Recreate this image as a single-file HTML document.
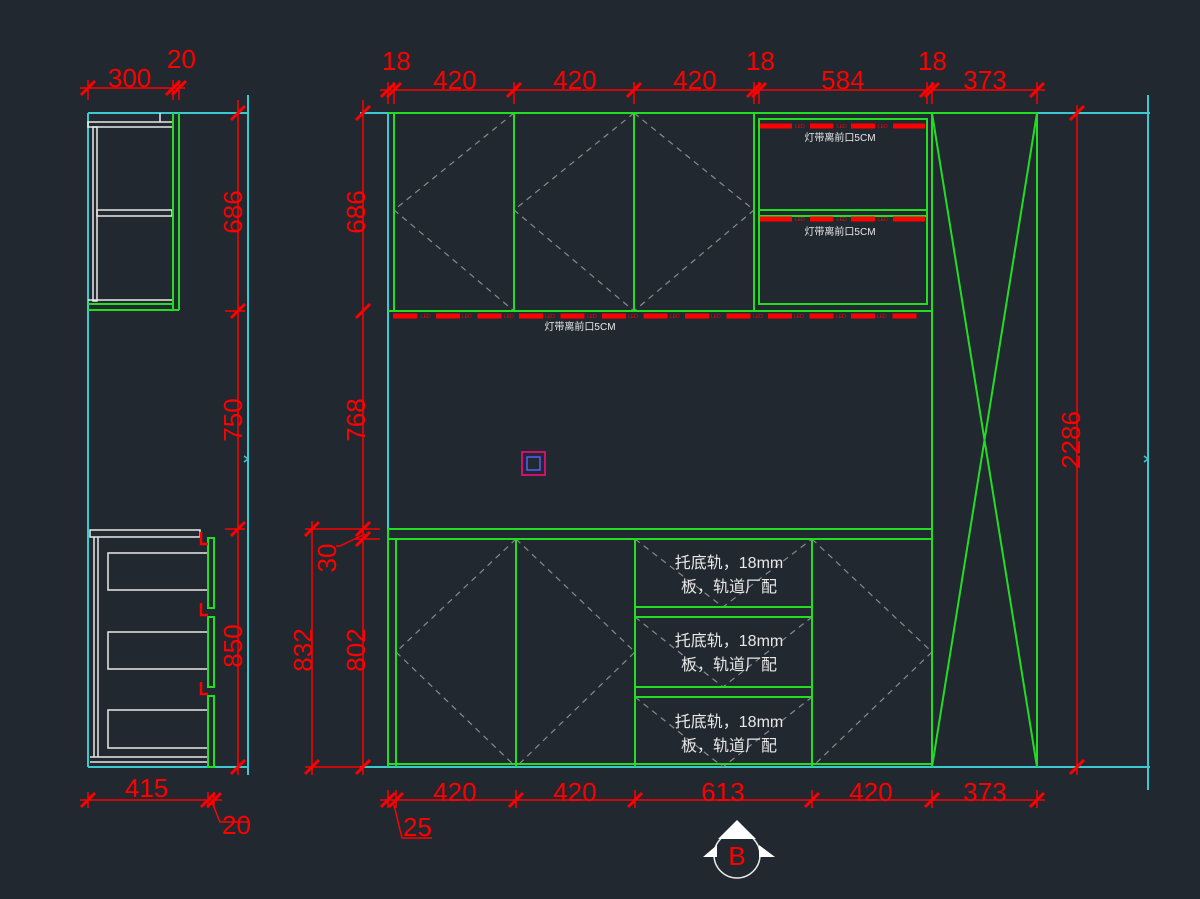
<!DOCTYPE html>
<html><head><meta charset="utf-8"><style>
html,body{margin:0;padding:0;background:#212830;}
svg{display:block}
.d{fill:#ff0000;font-family:"Liberation Sans",sans-serif;font-size:26px}
.w{fill:#e8e8e8;font-family:"Liberation Sans","Noto Sans CJK SC",sans-serif}
</style></head><body>
<svg width="1200" height="899" viewBox="0 0 1200 899" xmlns="http://www.w3.org/2000/svg">
<rect width="1200" height="899" fill="#212830"/>
<defs>
<g id="t"><line x1="-7" y1="7" x2="7" y2="-7" stroke="#ff0000" stroke-width="3"/></g>
</defs>

<!-- ===== SIDE VIEW ===== -->
<g fill="none">
<line x1="88" y1="113" x2="88" y2="767" stroke="#3cc8d0" stroke-width="2"/>
<line x1="88" y1="113" x2="248" y2="113" stroke="#3cc8d0" stroke-width="2"/>
<line x1="88" y1="767" x2="248" y2="767" stroke="#3cc8d0" stroke-width="2"/>
<line x1="248" y1="95" x2="248" y2="775" stroke="#3cc8d0" stroke-width="2"/>
<g stroke="#e8e8e8" stroke-width="1.5">
<rect x="88" y="122" width="85" height="5"/>
<line x1="160" y1="113" x2="160" y2="122"/>
<rect x="93" y="127" width="4" height="174"/>
<rect x="97" y="210" width="75" height="6"/>
<line x1="88" y1="300" x2="173" y2="300"/>
</g>
<g stroke="#22dd22" stroke-width="2">
<line x1="173" y1="113" x2="173" y2="310"/>
<line x1="179" y1="113" x2="179" y2="310"/>
<line x1="88" y1="304" x2="173" y2="304"/>
<line x1="88" y1="310" x2="179" y2="310"/>
</g>
<g stroke="#e8e8e8" stroke-width="1.5">
<rect x="90" y="530" width="110" height="7"/>
<line x1="94" y1="537" x2="94" y2="757"/>
<line x1="98" y1="537" x2="98" y2="757"/>
<rect x="108" y="553" width="100" height="37"/>
<rect x="108" y="632" width="100" height="37"/>
<rect x="108" y="710" width="100" height="38"/>
<line x1="90" y1="757" x2="208" y2="757"/>
<line x1="90" y1="762" x2="208" y2="762"/>
</g>
<g stroke="#22dd22" stroke-width="2">
<rect x="208" y="538" width="6" height="70"/>
<rect x="208" y="617" width="6" height="70"/>
<rect x="208" y="696" width="6" height="71"/>
</g>
<g stroke="#ff0000" stroke-width="2.5">
<path d="M201 532 v12 h7"/><path d="M201 603 v12 h7"/><path d="M201 682 v12 h7"/>
</g>
<g stroke="#ff0000" stroke-width="1.5">
<line x1="238" y1="100" x2="238" y2="775"/>
<line x1="225" y1="311" x2="245" y2="311"/><line x1="225" y1="529" x2="245" y2="529"/>
<line x1="80" y1="88" x2="185" y2="88"/>
<line x1="88" y1="80" x2="88" y2="100"/><line x1="173" y1="80" x2="173" y2="100"/><line x1="179" y1="80" x2="179" y2="100"/>
<line x1="80" y1="800" x2="222" y2="800"/>
<line x1="88" y1="792" x2="88" y2="808"/><line x1="208" y1="792" x2="208" y2="808"/><line x1="214" y1="792" x2="214" y2="808"/>
<polyline points="212,802 220,822 250,822"/>
</g>
</g>
<use href="#t" x="238" y="113"/><use href="#t" x="238" y="311"/><use href="#t" x="238" y="529"/><use href="#t" x="238" y="767"/>
<use href="#t" x="88" y="88"/><use href="#t" x="173" y="88"/><use href="#t" x="179" y="88"/>
<use href="#t" x="88" y="800"/><use href="#t" x="208" y="800"/><use href="#t" x="214" y="800"/>
<path d="M244 456 l4 3 l-4 3" stroke="#3cc8d0" fill="none" stroke-width="1.5"/>
<text class="d" x="108" y="87">300</text>
<text class="d" x="167" y="68">20</text>
<text class="d" x="125" y="797">415</text>
<text class="d" x="222" y="834">20</text>
<text class="d" transform="translate(242,212) rotate(-90)" text-anchor="middle">686</text>
<text class="d" transform="translate(242,420) rotate(-90)" text-anchor="middle">750</text>
<text class="d" transform="translate(242,646) rotate(-90)" text-anchor="middle">850</text>

<!-- ===== FRONT VIEW ===== -->
<g fill="none">
<line x1="360" y1="113" x2="1150" y2="113" stroke="#3cc8d0" stroke-width="2"/>
<line x1="360" y1="767" x2="1150" y2="767" stroke="#3cc8d0" stroke-width="2"/>
<line x1="388" y1="113" x2="388" y2="767" stroke="#3cc8d0" stroke-width="2"/>
<line x1="1148" y1="95" x2="1148" y2="790" stroke="#3cc8d0" stroke-width="2"/>
<path d="M1144 456 l4 3 l-4 3" stroke="#3cc8d0" stroke-width="1.5"/>

<g stroke="#8a8a8a" stroke-width="1.2" stroke-dasharray="6,5">
<polyline points="514,113 394,210 514,311"/>
<polyline points="634,113 514,210 634,311"/>
<polyline points="634,113 754,210 634,311"/>
<polyline points="516,539 396,652 516,767"/>
<polyline points="516,539 635,652 516,767"/>
<polyline points="812,539 932,652 812,767"/>
<polyline points="635,539 723,607 812,539"/>
<polyline points="635,617 723,687 812,617"/>
<polyline points="635,697 723,767 812,697"/>
</g>

<g stroke="#22dd22" stroke-width="2">
<line x1="388" y1="113" x2="932" y2="113"/>
<line x1="394" y1="113" x2="394" y2="311"/>
<line x1="514" y1="113" x2="514" y2="311"/>
<line x1="634" y1="113" x2="634" y2="311"/>
<line x1="754" y1="113" x2="754" y2="311"/>
<line x1="759" y1="118" x2="759" y2="305"/>
<line x1="927" y1="118" x2="927" y2="305"/>
<line x1="759" y1="119" x2="927" y2="119"/>
<line x1="759" y1="210" x2="927" y2="210"/>
<line x1="759" y1="216" x2="927" y2="216"/>
<line x1="759" y1="304" x2="927" y2="304"/>
<line x1="388" y1="311" x2="932" y2="311"/>
<line x1="932" y1="113" x2="932" y2="767"/>
<line x1="1037" y1="113" x2="1037" y2="767"/>
<line x1="932" y1="113" x2="1037" y2="113"/>
<line x1="932" y1="113" x2="1037" y2="767"/>
<line x1="1037" y1="113" x2="932" y2="767"/>
<line x1="388" y1="529" x2="932" y2="529"/>
<line x1="388" y1="539" x2="932" y2="539"/>
<line x1="388" y1="529" x2="388" y2="767"/>
<line x1="396" y1="539" x2="396" y2="767"/>
<line x1="516" y1="539" x2="516" y2="767"/>
<line x1="635" y1="539" x2="635" y2="767"/>
<line x1="812" y1="539" x2="812" y2="767"/>
<line x1="635" y1="607" x2="812" y2="607"/>
<line x1="635" y1="617" x2="812" y2="617"/>
<line x1="635" y1="687" x2="812" y2="687"/>
<line x1="635" y1="697" x2="812" y2="697"/>
<line x1="388" y1="764" x2="932" y2="764"/>
</g>

<g stroke="#ff0000" stroke-width="5">
<line x1="760" y1="126" x2="792" y2="126"/><line x1="810" y1="126" x2="833" y2="126"/><line x1="851" y1="126" x2="875" y2="126"/><line x1="893" y1="126" x2="925" y2="126"/>
<line x1="760" y1="219" x2="792" y2="219"/><line x1="810" y1="219" x2="833" y2="219"/><line x1="851" y1="219" x2="875" y2="219"/><line x1="893" y1="219" x2="925" y2="219"/>
<line x1="393" y1="316" x2="418" y2="316" stroke-dasharray="24,18"/>
<line x1="436" y1="316" x2="927" y2="316" stroke-dasharray="24,17.5"/>
</g>
</g>
<g fill="#ff0000" font-family="Liberation Sans,sans-serif" font-size="5">
<text x="795" y="128">LED</text><text x="837" y="128">LED</text><text x="878" y="128">LED</text>
<text x="795" y="221">LED</text><text x="837" y="221">LED</text><text x="878" y="221">LED</text>
<text x="421" y="318">LED</text><text x="462" y="318">LED</text><text x="504" y="318">LED</text><text x="545" y="318">LED</text><text x="587" y="318">LED</text><text x="628" y="318">LED</text><text x="670" y="318">LED</text><text x="711" y="318">LED</text><text x="753" y="318">LED</text><text x="794" y="318">LED</text><text x="836" y="318">LED</text><text x="877" y="318">LED</text>
</g>
<text class="w" x="840" y="141" font-size="10" text-anchor="middle">灯带离前口5CM</text>
<text class="w" x="840" y="235" font-size="10" text-anchor="middle">灯带离前口5CM</text>
<text class="w" x="580" y="330" font-size="10" text-anchor="middle">灯带离前口5CM</text>

<g class="w" font-size="16" text-anchor="middle">
<text x="729" y="568">托底轨，18mm</text><text x="729" y="592">板，轨道厂配</text>
<text x="729" y="646">托底轨，18mm</text><text x="729" y="670">板，轨道厂配</text>
<text x="729" y="727">托底轨，18mm</text><text x="729" y="751">板，轨道厂配</text>
</g>

<rect x="522" y="452" width="23" height="23" fill="none" stroke="#d01070" stroke-width="2"/>
<rect x="527" y="457" width="13" height="13" fill="none" stroke="#5060ff" stroke-width="1.5"/>

<g stroke="#ff0000" stroke-width="1.5" fill="none">
<line x1="380" y1="90" x2="1045" y2="90"/>
<line x1="388" y1="82" x2="388" y2="104"/><line x1="394" y1="82" x2="394" y2="104"/>
<line x1="514" y1="82" x2="514" y2="104"/><line x1="634" y1="82" x2="634" y2="104"/>
<line x1="754" y1="82" x2="754" y2="104"/><line x1="759" y1="82" x2="759" y2="104"/>
<line x1="927" y1="82" x2="927" y2="104"/><line x1="932" y1="82" x2="932" y2="104"/>
<line x1="1037" y1="82" x2="1037" y2="104"/>
<line x1="363" y1="100" x2="363" y2="775"/>
<line x1="312" y1="521" x2="312" y2="775"/>
<line x1="305" y1="529" x2="380" y2="529"/>
<line x1="355" y1="539" x2="380" y2="539"/>
<line x1="305" y1="767" x2="363" y2="767"/>
<polyline points="365,534 340,546 336,546"/>
<line x1="1077" y1="105" x2="1077" y2="775"/>
<line x1="380" y1="800" x2="1045" y2="800"/>
<line x1="388" y1="790" x2="388" y2="808"/><line x1="396" y1="790" x2="396" y2="808"/>
<line x1="516" y1="790" x2="516" y2="808"/><line x1="635" y1="790" x2="635" y2="808"/>
<line x1="812" y1="790" x2="812" y2="808"/><line x1="932" y1="790" x2="932" y2="808"/>
<line x1="1037" y1="790" x2="1037" y2="808"/>
<polyline points="394,805 402,838 432,838"/>
</g>
<use href="#t" x="388" y="90"/><use href="#t" x="394" y="90"/><use href="#t" x="514" y="90"/><use href="#t" x="634" y="90"/>
<use href="#t" x="754" y="90"/><use href="#t" x="759" y="90"/><use href="#t" x="927" y="90"/><use href="#t" x="932" y="90"/><use href="#t" x="1037" y="90"/>
<use href="#t" x="363" y="113"/><use href="#t" x="363" y="311"/><use href="#t" x="363" y="529"/><use href="#t" x="363" y="539"/><use href="#t" x="363" y="767"/>
<use href="#t" x="312" y="529"/><use href="#t" x="312" y="767"/>
<use href="#t" x="1077" y="113"/><use href="#t" x="1077" y="767"/>
<use href="#t" x="388" y="800"/><use href="#t" x="396" y="800"/><use href="#t" x="516" y="800"/><use href="#t" x="635" y="800"/>
<use href="#t" x="812" y="800"/><use href="#t" x="932" y="800"/><use href="#t" x="1037" y="800"/>

<text class="d" x="382" y="70">18</text>
<text class="d" x="455" y="89" text-anchor="middle">420</text>
<text class="d" x="575" y="89" text-anchor="middle">420</text>
<text class="d" x="695" y="89" text-anchor="middle">420</text>
<text class="d" x="746" y="70">18</text>
<text class="d" x="843" y="89" text-anchor="middle">584</text>
<text class="d" x="918" y="70">18</text>
<text class="d" x="985" y="89" text-anchor="middle">373</text>
<text class="d" transform="translate(365,212) rotate(-90)" text-anchor="middle">686</text>
<text class="d" transform="translate(365,420) rotate(-90)" text-anchor="middle">768</text>
<text class="d" transform="translate(365,650) rotate(-90)" text-anchor="middle">802</text>
<text class="d" transform="translate(312,650) rotate(-90)" text-anchor="middle">832</text>
<text class="d" transform="translate(336,558) rotate(-90)" text-anchor="middle">30</text>
<text class="d" transform="translate(1080,440) rotate(-90)" text-anchor="middle">2286</text>
<text class="d" x="455" y="801" text-anchor="middle">420</text>
<text class="d" x="575" y="801" text-anchor="middle">420</text>
<text class="d" x="723" y="801" text-anchor="middle">613</text>
<text class="d" x="871" y="801" text-anchor="middle">420</text>
<text class="d" x="985" y="801" text-anchor="middle">373</text>
<text class="d" x="403" y="836">25</text>

<circle cx="737" cy="855" r="23" fill="none" stroke="#e8e8e8" stroke-width="1.5"/>
<polygon points="737,820 718,839 756,839" fill="#ffffff"/>
<polygon points="703,857 717,845 717,857" fill="#ffffff"/>
<polygon points="775,857 759,845 759,857" fill="#ffffff"/>
<text x="737" y="865" fill="#ff0000" font-family="Liberation Sans,sans-serif" font-size="26" text-anchor="middle">B</text>
</svg>
</body></html>
